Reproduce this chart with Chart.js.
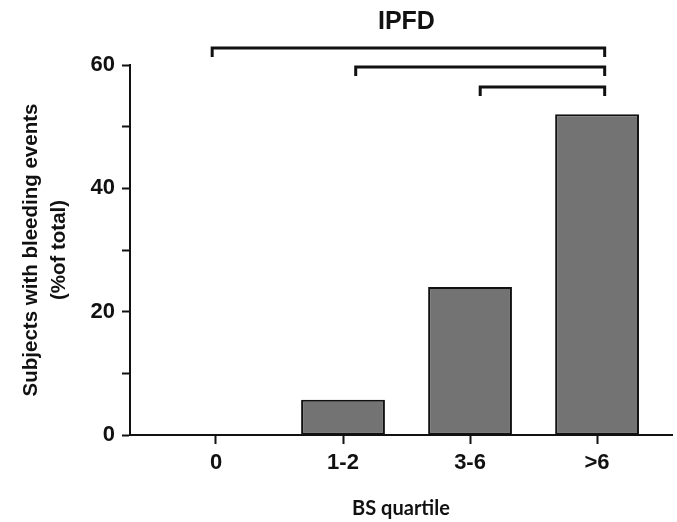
<!DOCTYPE html>
<html>
<head>
<meta charset="utf-8">
<script src="https://cdn.jsdelivr.net/npm/chart.js@4.4.0/dist/chart.umd.min.js"></script>
<style>
    html, body { margin: 0; padding: 0; background: #fff; }
    #wrap { width: 677px; height: 522px; }
</style>
</head>
<body>
<div id="wrap"><canvas id="bsChart" width="677" height="522"></canvas></div>
<script>
const categories = ['0', '1-2', '3-6', '>6'];
const bleedingPct = [0, 5.7, 24, 52];
const yTickValues = [0, 20, 40, 60];
// significance brackets in category units, and the y value each one sits at
const bracketSpans = [[-0.03, 3.06], [1.1, 3.06], [2.08, 3.06]];
const bracketLevels = [62.76, 59.68, 56.43];

const bracketPlugin = {
    id: 'brackets',
    afterDraw(chart) {
        const ctx = chart.ctx;
        const x = chart.scales.x;
        const y = chart.scales.y;
        ctx.save();
        ctx.strokeStyle = '#111';
        ctx.lineWidth = 3;
        ctx.lineJoin = 'miter';
        bracketSpans.forEach(function(span, i) {
            const x1 = x.getPixelForValue(span[0]);
            const x2 = x.getPixelForValue(span[1]);
            const yy = y.getPixelForValue(bracketLevels[i]);
            ctx.beginPath();
            ctx.moveTo(x1, yy + 9);
            ctx.lineTo(x1, yy);
            ctx.lineTo(x2, yy);
            ctx.lineTo(x2, yy + 9);
            ctx.stroke();
        });
        // title centred over the widest bracket
        const mid = (x.getPixelForValue(bracketSpans[0][0]) + x.getPixelForValue(bracketSpans[0][1])) / 2;
        ctx.fillStyle = '#111';
        ctx.font = 'bold 25px "Liberation Sans", Arial, sans-serif';
        ctx.textAlign = 'center';
        ctx.textBaseline = 'middle';
        ctx.fillText('IPFD', mid - 2, 22);
        ctx.restore();
    }
};

new Chart(document.getElementById('bsChart'), {
    type: 'bar',
    data: {
        datasets: [{
            data: bleedingPct.map(function(v, i) { return { x: i, y: v }; }),
            backgroundColor: '#737373',
            borderColor: '#111',
            borderWidth: 2,
            borderSkipped: false,
            categoryPercentage: 1,
            barPercentage: 0.66
        }]
    },
    options: {
        responsive: false,
        animation: false,
        layout: { padding: { top: 65, right: 5, left: 0, bottom: 0 } },
        plugins: {
            legend: { display: false },
            tooltip: { enabled: false }
        },
        scales: {
            x: {
                type: 'linear',
                offset: false,
                min: -0.677,
                max: 3.59,
                afterBuildTicks: function(s) {
                    s.ticks = categories.map(function(c, i) { return { value: i }; });
                },
                afterFit: function(s) { s.height = 87; },
                ticks: {
                    autoSkip: false,
                    padding: 6,
                    color: '#111',
                    font: { family: '"Liberation Sans", Arial, sans-serif', size: 22, weight: 'bold' },
                    callback: function(v) { return categories[v]; }
                },
                grid: { offset: false, drawOnChartArea: false, tickLength: 9, tickWidth: 2, tickColor: '#111' },
                border: { color: '#111', width: 2 },
                title: {
                    display: true,
                    text: 'BS quartile',
                    color: '#111',
                    font: { family: 'Lato, "Open Sans", sans-serif', size: 20, weight: 'bold' },
                    padding: { top: 0, bottom: 1 }
                }
            },
            y: {
                min: 0,
                max: 60,
                afterFit: function(s) { s.width = 130; },
                ticks: {
                    stepSize: 10,
                    padding: 7,
                    color: '#111',
                    font: { family: '"Liberation Sans", Arial, sans-serif', size: 22, weight: 'bold' },
                    callback: function(v) { return yTickValues.indexOf(v) >= 0 ? v : ''; }
                },
                grid: { drawOnChartArea: false, tickLength: 8, tickWidth: 2, tickColor: '#111' },
                border: { color: '#111', width: 2 },
                title: {
                    display: true,
                    text: ['Subjects with bleeding events', '(%of total)'],
                    color: '#111',
                    font: { family: '"Liberation Sans", Arial, sans-serif', size: 20.5, weight: 'bold', lineHeight: 1.4 },
                    padding: { top: 16.5, bottom: 0 }
                }
            }
        }
    },
    plugins: [bracketPlugin]
});
</script>
</body>
</html>
